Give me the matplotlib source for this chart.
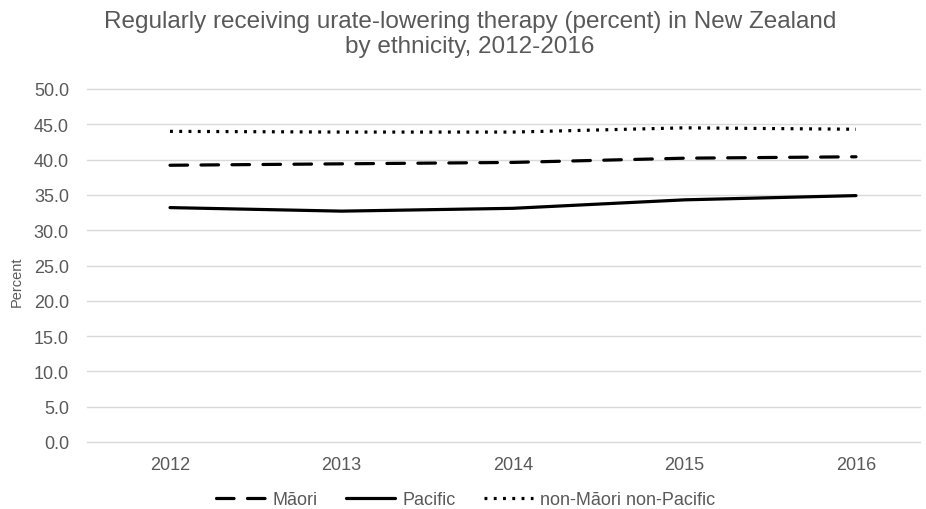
import matplotlib
matplotlib.use("Agg")
import matplotlib.pyplot as plt

years = [2012, 2013, 2014, 2015, 2016]
maori = [39.2, 39.4, 39.6, 40.2, 40.4]
pacific = [33.2, 32.7, 33.1, 34.3, 34.9]
non_maori_non_pacific = [44.0, 43.9, 43.9, 44.5, 44.3]
yticks = [0, 5, 10, 15, 20, 25, 30, 35, 40, 45, 50]

plt.rcParams['font.family'] = ['Liberation Sans', 'DejaVu Sans']
grey = '#595959'

fig = plt.figure(figsize=(9.26, 5.10), dpi=100)
W, H = 926, 510
left, right, top, bottom = 87, 920, 90, 443
ax = fig.add_axes([left / W, 1 - bottom / H, (right - left) / W, (bottom - top) / H])

lw = 2.3
ax.plot(years, maori, color='black', lw=lw, linestyle=(0, (5.5, 4.2)),
        dash_capstyle='round', label='Māori')
ax.plot(years, pacific, color='black', lw=lw, solid_capstyle='round', label='Pacific')
ax.plot(years, non_maori_non_pacific, color='black', lw=lw, linestyle=(0, (0.9, 2.0)),
        label='non-Māori non-Pacific')

px_per_year = 171.5
x0 = 170
ax.set_xlim(2012 - (x0 - left) / px_per_year, 2016 + (right - (x0 + 4 * px_per_year)) / px_per_year)
ax.set_ylim(0, 50)
ax.set_yticks(yticks)
ax.set_yticklabels([f"{v:.1f}" for v in yticks])
ax.set_xticks(years)
ax.set_xticklabels([str(y) for y in years])
ax.tick_params(axis='both', length=0, labelsize=13, colors=grey)
ax.tick_params(axis='x', pad=10)
ax.tick_params(axis='y', pad=13)
ax.grid(axis='y', color='#d9d9d9', lw=1)
for gl in ax.yaxis.get_gridlines():
    gl.set_clip_on(False)
ax.set_axisbelow(True)
for s in ax.spines.values():
    s.set_visible(False)

ax.set_ylabel('Percent', fontsize=10.5, color=grey, labelpad=7)
ax.yaxis.label.set_y((443 - 282) / (443 - 90))

fig.text(470 / W, 1 - 11 / H,
         'Regularly receiving urate-lowering therapy (percent) in New Zealand\nby ethnicity, 2012-2016',
         ha='center', va='top', fontsize=17.5, color=grey, linespacing=1.15)

leg = fig.legend(loc='center', bbox_to_anchor=(466 / W, 1 - 501 / H), ncol=3, frameon=False,
                 fontsize=13, handlelength=2.7, columnspacing=1.6, handletextpad=0.4)
for t in leg.get_texts():
    t.set_color(grey)

fig.savefig('out.png', dpi=100)
